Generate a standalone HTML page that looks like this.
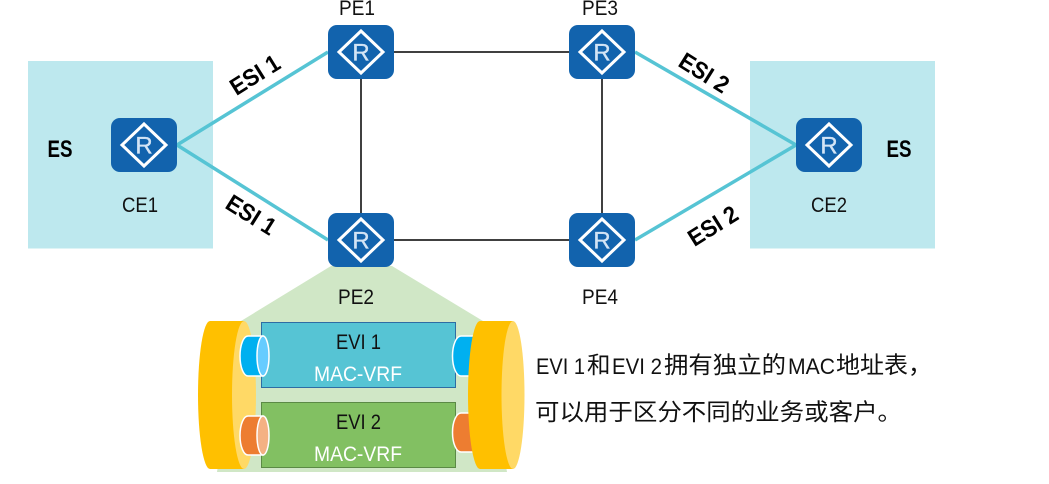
<!DOCTYPE html>
<html><head><meta charset="utf-8">
<style>
html,body{margin:0;padding:0;background:#fff;width:1049px;height:484px;overflow:hidden}
svg{display:block}
text{font-family:"Liberation Sans","Noto Sans CJK SC",sans-serif}
.n{font-size:21.500px;fill:#111;text-anchor:middle}
.b{font-size:24px;font-weight:bold;fill:#000;text-anchor:middle}
.r{font-size:24px;fill:#d3e4f5;text-anchor:middle;stroke:#d3e4f5;stroke-width:.3px}
.w{font-size:21.500px;fill:#fff;text-anchor:middle}
.c{font-size:23.500px;fill:#111}
.l{font-size:22.500px;fill:#111}
</style></head><body>
<svg width="1049" height="484" viewBox="0 0 1049 484" xmlns="http://www.w3.org/2000/svg">
<rect x="28" y="61" width="185" height="187.500" fill="#bde8ee"/>
<rect x="750" y="61" width="185" height="187.500" fill="#bde8ee"/>
<polygon points="331,266 392,266 483,321 507,472 217,472 241,321" fill="#d0e7c6"/>
<g stroke="#000" stroke-width="1.500" fill="none">
<line x1="361" y1="52" x2="602" y2="52"/>
<line x1="361" y1="240" x2="602" y2="240"/>
<line x1="361" y1="52" x2="361" y2="240"/>
<line x1="602" y1="52" x2="602" y2="240"/>
</g>
<g stroke="#56c4d4" stroke-width="3.500" fill="none">
<line x1="177" y1="145" x2="328" y2="52"/>
<line x1="177" y1="145" x2="328" y2="240"/>
<line x1="635" y1="52" x2="796" y2="145"/>
<line x1="635" y1="240" x2="796" y2="145"/>
</g>

<!-- routers -->
<g><rect x="328" y="25" width="66" height="54" rx="9" fill="#1263ad"/><polygon points="361,31 383,52 361,73 339,52" fill="none" stroke="#fff" stroke-width="3"/><text x="361" y="60.500" class="r">R</text></g>
<g><rect x="328" y="213" width="66" height="54" rx="9" fill="#1263ad"/><polygon points="361,219 383,240 361,261 339,240" fill="none" stroke="#fff" stroke-width="3"/><text x="361" y="248.500" class="r">R</text></g>
<g><rect x="569" y="25" width="66" height="54" rx="9" fill="#1263ad"/><polygon points="602,31 624,52 602,73 580,52" fill="none" stroke="#fff" stroke-width="3"/><text x="602" y="60.500" class="r">R</text></g>
<g><rect x="569" y="213" width="66" height="54" rx="9" fill="#1263ad"/><polygon points="602,219 624,240 602,261 580,240" fill="none" stroke="#fff" stroke-width="3"/><text x="602" y="248.500" class="r">R</text></g>
<g><rect x="111" y="118" width="66" height="54" rx="9" fill="#1263ad"/><polygon points="144,124 166,145 144,166 122,145" fill="none" stroke="#fff" stroke-width="3"/><text x="144" y="153.500" class="r">R</text></g>
<g><rect x="796" y="118" width="66" height="54" rx="9" fill="#1263ad"/><polygon points="829,124 851,145 829,166 807,145" fill="none" stroke="#fff" stroke-width="3"/><text x="829" y="153.500" class="r">R</text></g>

<!-- labels -->
<text x="357" y="15" class="n" textLength="36" lengthAdjust="spacingAndGlyphs">PE1</text>
<text x="600" y="15" class="n" textLength="36" lengthAdjust="spacingAndGlyphs">PE3</text>
<text x="356" y="304" class="n" textLength="36" lengthAdjust="spacingAndGlyphs">PE2</text>
<text x="600" y="304" class="n" textLength="36" lengthAdjust="spacingAndGlyphs">PE4</text>
<text x="140" y="212" class="n" textLength="36" lengthAdjust="spacingAndGlyphs">CE1</text>
<text x="829" y="212" class="n" textLength="36" lengthAdjust="spacingAndGlyphs">CE2</text>
<text x="60" y="157" class="b" textLength="25" lengthAdjust="spacingAndGlyphs">ES</text>
<text x="899" y="157" class="b" textLength="25" lengthAdjust="spacingAndGlyphs">ES</text>
<text transform="translate(255,75) rotate(-32)" x="0" y="8" class="b" textLength="54" lengthAdjust="spacingAndGlyphs">ESI 1</text>
<text transform="translate(251,215) rotate(32)" x="0" y="8" class="b" textLength="54" lengthAdjust="spacingAndGlyphs">ESI 1</text>
<text transform="translate(704,73) rotate(32)" x="0" y="8" class="b" textLength="54" lengthAdjust="spacingAndGlyphs">ESI 2</text>
<text transform="translate(713,226) rotate(-32)" x="0" y="8" class="b" textLength="54" lengthAdjust="spacingAndGlyphs">ESI 2</text>

<!-- EVI boxes -->
<rect x="261.500" y="322.500" width="194" height="65" fill="#56c4d4" stroke="#2e6da4" stroke-width="1"/>
<rect x="261.500" y="402.500" width="194" height="65" fill="#82c062" stroke="#5b8a45" stroke-width="1"/>
<text x="358.500" y="349" class="n" textLength="45" lengthAdjust="spacingAndGlyphs">EVI 1</text>
<text x="358" y="381" class="w" textLength="88" lengthAdjust="spacingAndGlyphs">MAC-VRF</text>
<text x="358.500" y="429" class="n" textLength="45" lengthAdjust="spacingAndGlyphs">EVI 2</text>
<text x="358" y="461" class="w" textLength="88" lengthAdjust="spacingAndGlyphs">MAC-VRF</text>

<!-- right tubes (behind disk) -->
<path d="M480,336 H461 A8.500,20 0 0 0 461,376 H480 Z" fill="#00b0f0" stroke="#fff" stroke-width="1.500"/>
<path d="M480,413 H461 A8.500,19.500 0 0 0 461,452 H480 Z" fill="#ed7d31" stroke="#fff" stroke-width="1.500"/>

<!-- left disk -->
<path d="M210,321 H244 V469 H210 A12,74 0 0 1 210,321 Z" fill="#ffc000"/>
<ellipse cx="244" cy="395" rx="12" ry="74" fill="#ffd966"/>
<!-- right disk -->
<path d="M480,321 H513 V469 H480 A12,74 0 0 1 480,321 Z" fill="#ffc000"/>
<ellipse cx="513" cy="395" rx="11.500" ry="74" fill="#ffd966"/>

<!-- left tubes -->
<path d="M263,336 H248 A8,20 0 0 0 248,376 H263 Z" fill="#00b0f0" stroke="#fff" stroke-width="1.500"/>
<ellipse cx="263" cy="356" rx="6" ry="20" fill="#66ccff" stroke="#fff" stroke-width="1.500"/>
<path d="M263,416 H248 A8,19.500 0 0 0 248,455 H263 Z" fill="#ed7d31" stroke="#fff" stroke-width="1.500"/>
<ellipse cx="263" cy="435.500" rx="6" ry="19.500" fill="#f4b183" stroke="#fff" stroke-width="1.500"/>

<!-- caption -->
<text x="536" y="374" class="l" textLength="49" lengthAdjust="spacingAndGlyphs">EVI 1</text>
<text x="587" y="373" class="c">和</text>
<text x="612" y="374" class="l" textLength="50" lengthAdjust="spacingAndGlyphs">EVI 2</text>
<text x="664" y="373" class="c" textLength="122" lengthAdjust="spacingAndGlyphs">拥有独立的</text>
<text x="788" y="374" class="l" textLength="47" lengthAdjust="spacingAndGlyphs">MAC</text>
<text x="836" y="373" class="c" textLength="96" lengthAdjust="spacingAndGlyphs">地址表，</text>
<text x="535" y="420" class="c" textLength="367" lengthAdjust="spacingAndGlyphs">可以用于区分不同的业务或客户。</text>
</svg>
</body></html>
